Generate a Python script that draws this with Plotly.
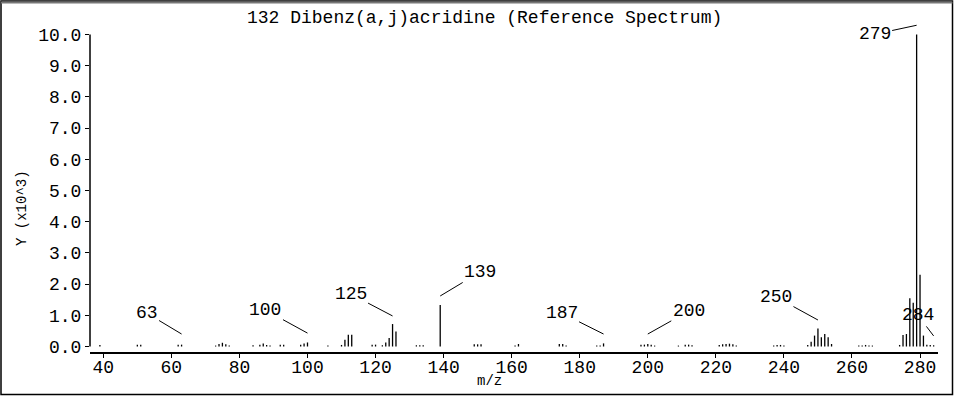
import plotly.graph_objects as go

# ---- data (m/z, intensity in units of 10^3) ----
mz = [39, 50, 51, 62, 63, 73, 74, 75, 76, 77, 84, 86, 87, 88, 89, 92, 93,
      98, 99, 100, 106, 110, 111, 112, 113, 119, 120, 122, 123, 124, 125, 126,
      132, 133, 134, 139, 149, 150, 151, 161, 162, 174, 175, 176, 185, 186, 187,
      198, 199, 200, 201, 202, 209, 211, 212, 213, 221, 222, 223, 224, 225, 226,
      237, 238, 239, 240, 247, 248, 249, 250, 251, 252, 253, 254,
      262, 263, 264, 265, 266, 274, 275, 276, 277, 278, 279, 280, 281, 282, 283, 284]
intensity = [0.05, 0.06, 0.06, 0.06, 0.06, 0.03, 0.08, 0.12, 0.07, 0.03, 0.04, 0.06, 0.10, 0.05, 0.03, 0.06, 0.06,
             0.06, 0.10, 0.13, 0.03, 0.05, 0.22, 0.38, 0.38, 0.06, 0.06, 0.04, 0.13, 0.27, 0.72, 0.48,
             0.04, 0.04, 0.04, 1.33, 0.07, 0.07, 0.07, 0.03, 0.08, 0.08, 0.08, 0.03, 0.03, 0.03, 0.10,
             0.06, 0.06, 0.08, 0.06, 0.03, 0.03, 0.06, 0.06, 0.04, 0.05, 0.07, 0.08, 0.09, 0.07, 0.03,
             0.03, 0.05, 0.05, 0.03, 0.05, 0.15, 0.35, 0.58, 0.30, 0.40, 0.30, 0.08,
             0.03, 0.03, 0.05, 0.03, 0.03, 0.05, 0.37, 0.40, 1.55, 1.40, 10.0, 2.30, 0.35, 0.06, 0.05, 0.04]

# labelled peaks: (m/z, label anchor height, text offset px x, y)
label_mz = [63, 100, 125, 139, 187, 200, 250, 279, 284]
label_tip = [0.40, 0.43, 0.98, 1.62, 0.40, 0.40, 0.85, 10.30, 0.34]
label_ax = [-35, -42, -42, 40, -42, 41, -42, -42, -16]
label_ay = [-21, -23, -22, -24, -21, -23, -23, 9, -21]

x_ticks = list(range(40, 281, 20))
y_ticks = list(range(0, 11))

title_text = "132 Dibenz(a,j)acridine (Reference Spectrum)"
x_title = "m/z"
y_title = "Y (x10^3)"

FONT = "Liberation Mono"
W, H = 954, 396
ML, MR, MT, MB = 90, 16, 24, 44
PW, PH = W - ML - MR, H - MT - MB

# stick spectrum built from the data
xs, ys = [], []
for m, v in zip(mz, intensity):
    xs += [m, m, None]
    ys += [0, v, None]

fig = go.Figure()
fig.add_trace(go.Scatter(x=xs, y=ys, mode="lines",
                         line=dict(color="black", width=1.3),
                         hoverinfo="skip", showlegend=False))

annotations = []
for m, t, ax, ay in zip(label_mz, label_tip, label_ax, label_ay):
    annotations.append(dict(x=m, y=t, xref="x", yref="y", text=str(m),
                            showarrow=True, arrowhead=0, arrowwidth=1,
                            arrowcolor="black", ax=ax, ay=ay,
                            font=dict(family=FONT, size=18, color="black")))

def px_x(p):
    return (p - ML) / PW

def px_y(p):
    return (H - MB - p) / PH

annotations += [
    dict(text=title_text, xref="paper", yref="paper", x=px_x(484), y=px_y(18),
         showarrow=False, xanchor="center", yanchor="middle",
         font=dict(family=FONT, size=18, color="black")),
    dict(text=x_title, xref="paper", yref="paper", x=px_x(489), y=px_y(381),
         showarrow=False, xanchor="center", yanchor="middle",
         font=dict(family=FONT, size=14, color="black")),
    dict(text=y_title, xref="paper", yref="paper", x=px_x(22), y=px_y(208),
         showarrow=False, xanchor="center", yanchor="middle", textangle=-90,
         font=dict(family=FONT, size=14, color="black")),
]

shapes = [
    # y axis line from 0 to 10
    dict(type="line", xref="paper", yref="y", x0=0, x1=0, y0=0, y1=10,
         line=dict(color="black", width=1.5)),
    # outer frame
    dict(type="rect", xref="paper", yref="paper",
         x0=px_x(1), x1=px_x(952.5), y0=px_y(394.5), y1=px_y(1),
         line=dict(color="black", width=1.5)),
    dict(type="line", xref="paper", yref="paper",
         x0=px_x(1), x1=px_x(952.5), y0=px_y(2.5), y1=px_y(2.5),
         line=dict(color="#777777", width=2)),
]

fig.update_layout(
    width=W, height=H,
    margin=dict(l=ML, r=MR, t=MT, b=MB, pad=0),
    paper_bgcolor="white", plot_bgcolor="white",
    annotations=annotations, shapes=shapes,
    font=dict(family=FONT, size=18, color="black"),
    xaxis=dict(range=[36.09, 285.28], tickvals=x_ticks, ticks="outside",
               ticklen=4, tickwidth=1, tickcolor="black", showgrid=False,
               zeroline=False, showline=True, linecolor="black", linewidth=2,
               ticklabelstandoff=-7,
               tickfont=dict(family=FONT, size=18, color="black")),
    yaxis=dict(range=[-0.176, 10.34], tickvals=y_ticks, tickformat=".1f",
               ticks="outside", ticklen=4, tickwidth=1, tickcolor="black",
               showgrid=False, zeroline=False, showline=False,
               tickfont=dict(family=FONT, size=18, color="black")),
)

fig.write_html("out.html", config={"displayModeBar": False},
               post_script="document.body.style.margin='0px';document.body.style.overflow='hidden';")
